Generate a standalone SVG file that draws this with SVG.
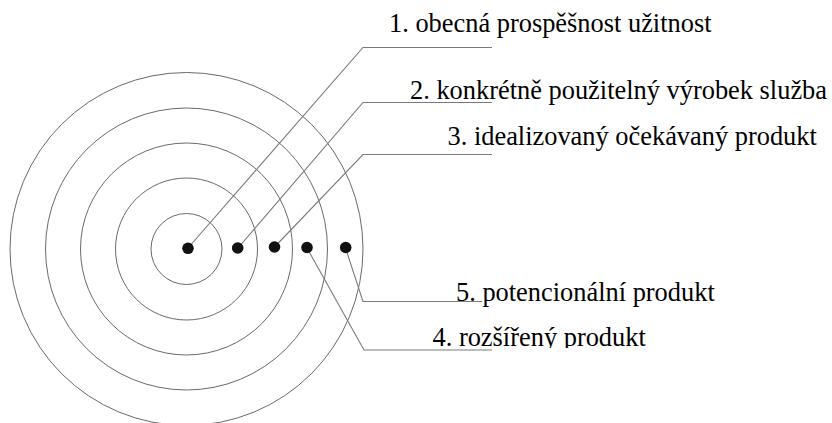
<svg xmlns="http://www.w3.org/2000/svg" width="832" height="423" viewBox="0 0 832 423">
<style>
.ring{fill:none;stroke:#6a6a6a;stroke-width:1}
.dot{fill:#111}
.lead{fill:none;stroke:#7a7a7a;stroke-width:1.1}
.lbl{font-family:"Liberation Serif","Times New Roman",serif;font-size:26.4px;fill:#000}
</style>
<defs>
<clipPath id="clip4"><rect x="420" y="300" width="300" height="48"/></clipPath>
</defs>
<rect width="832" height="423" fill="#fff"/>
<g id="rings">
<circle class="ring" cx="186.5" cy="249" r="35.5"/>
<circle class="ring" cx="186.5" cy="249" r="71"/>
<circle class="ring" cx="186.5" cy="249" r="106"/>
<circle class="ring" cx="186.5" cy="249" r="141"/>
<circle class="ring" cx="186.5" cy="249" r="176.5"/>
</g>
<g id="connectors">
<polyline class="lead" points="188,248 363,47.5 492,47.5"/>
<polyline class="lead" points="238,248 363,102.5 492,102.5"/>
<polyline class="lead" points="274.5,247 363,154.5 492,154.5"/>
<polyline class="lead" points="307,248 364,350 492,350"/>
<polyline class="lead" points="345.5,248 363,301.5 482,301.5"/>
</g>
<g id="n1"><circle class="dot" cx="188" cy="248.3" r="5.8"/><text class="lbl" x="389" y="32">1. obecná prospěšnost užitnost</text></g>
<g id="n2"><circle class="dot" cx="237.7" cy="248" r="5.8"/><text class="lbl" x="410" y="99">2. konkrétně použitelný výrobek služba</text></g>
<g id="n3"><circle class="dot" cx="274.5" cy="247" r="5.8"/><text class="lbl" x="447.5" y="145">3. idealizovaný očekávaný produkt</text></g>
<g id="n4"><circle class="dot" cx="307" cy="247.5" r="5.8"/><text class="lbl" x="432.5" y="346" clip-path="url(#clip4)">4. rozšířený produkt</text></g>
<g id="n5"><circle class="dot" cx="345.7" cy="247.5" r="5.8"/><text class="lbl" x="456" y="301">5. potencionální produkt</text></g>
</svg>
